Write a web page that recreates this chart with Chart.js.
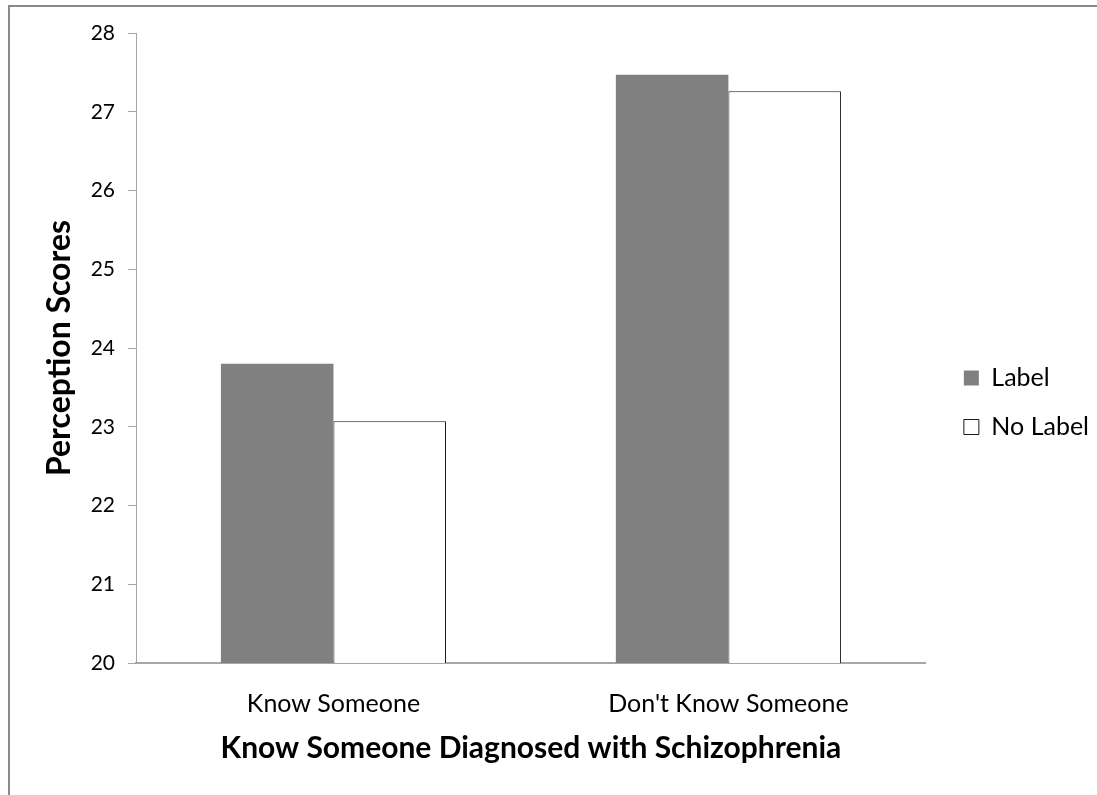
<!DOCTYPE html>
<html>
<head>
<meta charset="utf-8">
<script src="https://cdn.jsdelivr.net/npm/chart.js@4/dist/chart.umd.min.js"></script>
<style>
  html, body { margin: 0; padding: 0; background: #fff; overflow: hidden; }
  #frame { position: absolute; left: 8px; top: 5px; width: 1200px; height: 900px;
           border-left: 2px solid #8a8a8a; border-top: 2px solid #8a8a8a; }
  #wrap { position: absolute; left: 0; top: 0; width: 1097px; height: 795px; }
</style>
</head>
<body>
<div id="frame"></div>
<div id="wrap"><canvas id="c" width="1097" height="795"></canvas></div>
<script>
const categories = ["Know Someone", "Don't Know Someone"];
const labelScores = [23.80, 27.47];
const noLabelScores = [23.07, 27.26];
const yTicks = [20, 21, 22, 23, 24, 25, 26, 27, 28];

const FONT = "'Lato', 'Open Sans', sans-serif";

// Moves the legend block a little further from the plot area.
const legendOffset = {
  id: 'legendOffset',
  afterLayout(chart) {
    const lg = chart.legend;
    if (!lg) return;
    const dx = 14;
    lg.left += dx;
    lg.right += dx;
  }
};

new Chart(document.getElementById('c'), {
  type: 'bar',
  data: {
    labels: categories,
    datasets: [
      { label: 'Label', data: labelScores, backgroundColor: '#808080',
        borderColor: '#808080', borderWidth: 0 },
      { label: 'No Label', data: noLabelScores, backgroundColor: '#ffffff',
        borderColor: '#1a1a1a', borderWidth: 1 }
    ]
  },
  plugins: [legendOffset],
  options: {
    responsive: false,
    animation: false,
    devicePixelRatio: 1,
    categoryPercentage: 0.57,
    barPercentage: 1.0,
    layout: { padding: { left: 30, top: 33, right: 12, bottom: 23 } },
    plugins: {
      tooltip: { enabled: false },
      legend: {
        position: 'right',
        align: 'center',
        labels: {
          color: '#000',
          font: { family: FONT, size: 25 },
          boxWidth: 15, boxHeight: 15,
          padding: 24
        }
      }
    },
    scales: {
      x: {
        afterFit: axis => { axis.height = 109; },
        grid: { display: false, drawTicks: false },
        border: { display: true, color: '#a6a6a6', width: 2 },
        ticks: { color: '#000', font: { family: FONT, size: 25 }, padding: 26 },
        title: { display: true, text: 'Know Someone Diagnosed with Schizophrenia',
                 color: '#000', font: { family: FONT, size: 30, weight: 'bold' },
                 padding: { top: 12, bottom: 6 } }
      },
      y: {
        min: 20, max: 28,
        afterFit: axis => { axis.width = 106; },
        afterBuildTicks: axis => { axis.ticks = yTicks.map(v => ({ value: v })); },
        grid: { drawOnChartArea: false, drawTicks: true, tickLength: 8, color: '#a6a6a6' },
        border: { display: true, color: '#a6a6a6', width: 1 },
        ticks: { color: '#000', font: { family: FONT, size: 21 }, padding: 13 },
        title: { display: true, text: 'Perception Scores',
                 color: '#000', font: { family: FONT, size: 32, weight: 'bold' },
                 padding: { top: 10, bottom: 10 } }
      }
    }
  }
});
</script>
</body>
</html>
